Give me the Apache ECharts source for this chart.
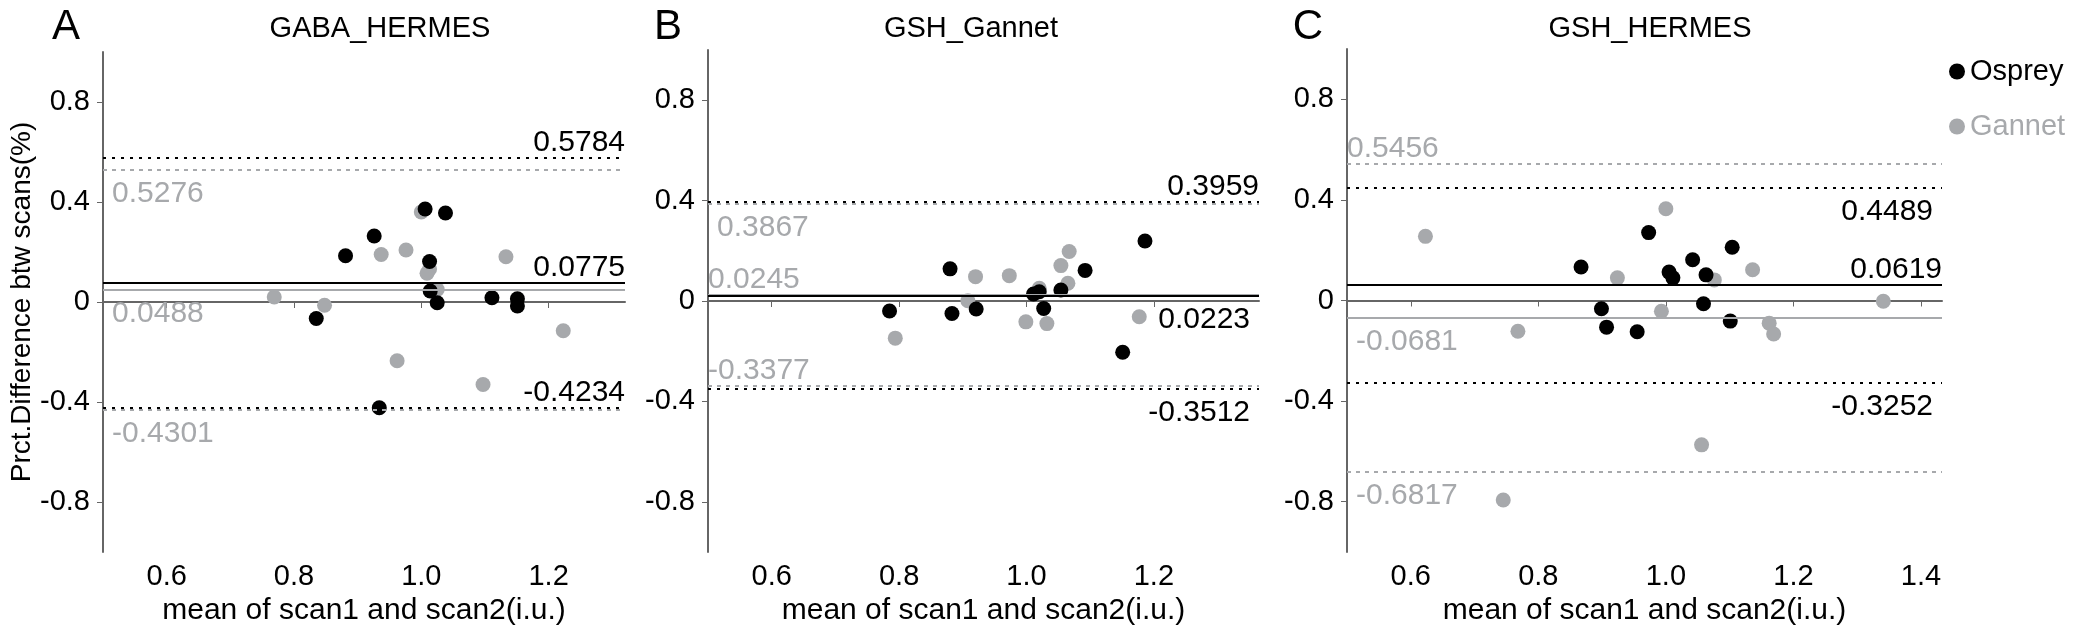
<!DOCTYPE html>
<html>
<head>
<meta charset="utf-8">
<script src="https://cdn.jsdelivr.net/npm/echarts@6/dist/echarts.min.js"></script>
<style>
  html, body { margin: 0; padding: 0; background: #fff; }
  #chart { width: 2080px; height: 631px; }
</style>
</head>
<body>
<div id="chart"></div>
<script>
// panel names
const panelLetters = ["A", "B", "C"];
const panelTitles = ["GABA_HERMES", "GSH_Gannet", "GSH_HERMES"];
const xTicks = [
  [0.6, 0.8, 1.0, 1.2],
  [0.6, 0.8, 1.0, 1.2],
  [0.6, 0.8, 1.0, 1.2, 1.4]
];
const yTicks = [-0.8, -0.4, 0, 0.4, 0.8];

// points: [mean of scan1 and scan2, pct difference]
const ospreyA = [[1.006, 0.372], [1.038, 0.356], [0.926, 0.264], [0.881, 0.185], [1.013, 0.162], [1.014, 0.044],
  [1.025, -0.003], [1.111, 0.017], [1.151, 0.013], [1.151, -0.016], [0.835, -0.066], [0.934, -0.423]];
const gannetA = [[1.0, 0.36], [0.937, 0.19], [0.976, 0.208], [1.013, 0.132], [1.009, 0.115], [1.025, 0.05],
  [1.133, 0.181], [0.769, 0.02], [0.848, -0.013], [0.962, -0.235], [1.097, -0.33], [1.223, -0.115]];

const ospreyB = [[1.186, 0.239], [0.880, 0.128], [1.092, 0.122], [1.054, 0.044], [1.020, 0.037], [1.011, 0.028],
  [0.785, -0.04], [0.883, -0.05], [0.921, -0.032], [1.027, -0.03], [1.151, -0.204]];
const gannetB = [[1.067, 0.197], [1.054, 0.141], [0.920, 0.097], [0.973, 0.101], [1.065, 0.071], [1.020, 0.051],
  [0.908, 0.001], [0.794, -0.148], [0.999, -0.083], [1.032, -0.09], [1.177, -0.063]];

const ospreyC = [[0.973, 0.270], [1.104, 0.212], [1.042, 0.162], [0.867, 0.133], [1.005, 0.113], [1.011, 0.090],
  [1.063, 0.102], [1.059, -0.013], [0.899, -0.033], [0.907, -0.106], [0.955, -0.124], [1.101, -0.082]];
const gannetC = [[1.000, 0.365], [0.623, 0.255], [1.136, 0.122], [0.924, 0.090], [1.076, 0.082], [1.341, -0.003],
  [0.993, -0.043], [0.768, -0.122], [1.162, -0.090], [1.169, -0.133], [1.056, -0.574], [0.745, -0.793]];

// upper limit, mean, lower limit
const ospreyLinesA = [0.5784, 0.0775, -0.4234];
const gannetLinesA = [0.5276, 0.0488, -0.4301];
const ospreyLinesB = [0.3959, 0.0223, -0.3512];
const gannetLinesB = [0.3867, 0.0245, -0.3377];
const ospreyLinesC = [0.4489, 0.0619, -0.3252];
const gannetLinesC = [0.5456, -0.0681, -0.6817];

const FONT = "'Liberation Sans',Arial,sans-serif";
const GRAY = "#a7a9ac";
const AXIS = "#666";

const grids = [
  { left: 103, top: 52, width: 522, height: 503 },
  { left: 708, top: 50, width: 551, height: 503 },
  { left: 1347, top: 49, width: 595, height: 504 }
];
const xMax = [1.32, 1.365, 1.433];
const titleX = [380, 971, 1650];
const letterX = [66, 668, 1308];

// where the value text sits on each line
const ospreyPos = [
  ["insideEndTop", "insideEndTop", "insideEndTop"],
  ["insideEndTop", "insideEndBottom", "insideEndBottom"],
  ["insideEndBottom", "insideEndTop", "insideEndBottom"]
];
const gannetPos = [
  ["insideStartBottom", "insideStartBottom", "insideStartBottom"],
  ["insideStartBottom", "insideStartTop", "insideStartTop"],
  ["insideStartTop", "insideStartBottom", "insideStartBottom"]
];

const osprey = [ospreyA, ospreyB, ospreyC];
const gannet = [gannetA, gannetB, gannetC];
const ospreyLines = [ospreyLinesA, ospreyLinesB, ospreyLinesC];
const gannetLines = [gannetLinesA, gannetLinesB, gannetLinesC];

function markLines(values, positions, color, dash) {
  return {
    symbol: "none",
    silent: true,
    precision: 4,
    animation: false,
    data: values.map(function (v, k) {
      const top = positions[k].indexOf("Top") > 0;
      return {
        yAxis: v,
        lineStyle: {
          color: color,
          width: 2,
          type: k === 1 ? "solid" : dash
        },
        label: {
          show: true,
          position: positions[k],
          formatter: function (p) { return Number(p.value).toFixed(4); },
          color: color,
          fontFamily: FONT,
          fontSize: 30,
          distance: top ? 0 : 9
        }
      };
    })
  };
}

let myChart = echarts.init(document.getElementById("chart"));

let xAxes = [], yAxes = [], series = [], graphics = [];
for (let i = 0; i < 3; i++) {
  xAxes.push({
    type: "value",
    gridIndex: i,
    min: 0.5,
    max: xMax[i],
    name: "mean of scan1 and scan2(i.u.)",
    nameLocation: "middle",
    nameGap: 44,
    nameTextStyle: { fontFamily: FONT, fontSize: 30, color: "#000" },
    splitLine: { show: false },
    axisLine: { lineStyle: { color: AXIS, width: 2 } },
    axisTick: { length: 6, lineStyle: { color: AXIS }, customValues: xTicks[i] },
    axisLabel: {
      fontFamily: FONT, fontSize: 29, color: "#000", margin: 10,
      customValues: xTicks[i],
      formatter: function (v) { return v.toFixed(1); }
    }
  });
  yAxes.push({
    type: "value",
    gridIndex: i,
    min: -1,
    max: 1,
    name: i === 0 ? "Prct.Difference btw scans(%)" : "",
    nameLocation: "middle",
    nameGap: 66,
    nameTextStyle: { fontFamily: FONT, fontSize: 28, color: "#000" },
    splitLine: { show: false },
    axisLine: { show: true, lineStyle: { color: AXIS, width: 2 } },
    axisTick: { show: true, length: 6, lineStyle: { color: AXIS }, customValues: yTicks },
    axisLabel: { fontFamily: FONT, fontSize: 29, color: "#000", margin: 13, customValues: yTicks }
  });
  series.push({
    name: "Gannet",
    type: "scatter",
    xAxisIndex: i,
    yAxisIndex: i,
    symbolSize: 15,
    itemStyle: { color: GRAY, opacity: 1 },
    data: gannet[i],
    markLine: markLines(gannetLines[i], gannetPos[i], GRAY, [4, 5])
  });
  series.push({
    name: "Osprey",
    type: "scatter",
    xAxisIndex: i,
    yAxisIndex: i,
    symbolSize: 15,
    itemStyle: { color: "#000", opacity: 1 },
    data: osprey[i],
    markLine: markLines(ospreyLines[i], ospreyPos[i], "#000", [3, 6])
  });
  graphics.push({
    type: "text", x: letterX[i], y: 27,
    style: { text: panelLetters[i], font: "42px " + FONT, fill: "#000", align: "center", verticalAlign: "middle" }
  });
  graphics.push({
    type: "text", x: titleX[i], y: 29,
    style: { text: panelTitles[i], font: "29px " + FONT, fill: "#000", align: "center", verticalAlign: "middle" }
  });
}

let option = {
  animation: false,
  backgroundColor: "#fff",
  grid: grids,
  xAxis: xAxes,
  yAxis: yAxes,
  legend: {
    orient: "vertical",
    left: 1944,
    top: 52,
    icon: "circle",
    itemWidth: 16,
    itemHeight: 16,
    itemGap: 26,
    textStyle: { fontFamily: FONT, fontSize: 29 },
    data: [
      { name: "Osprey", textStyle: { color: "#000" } },
      { name: "Gannet", textStyle: { color: GRAY } }
    ]
  },
  graphic: graphics,
  series: series
};
myChart.setOption(option);
</script>
</body>
</html>
